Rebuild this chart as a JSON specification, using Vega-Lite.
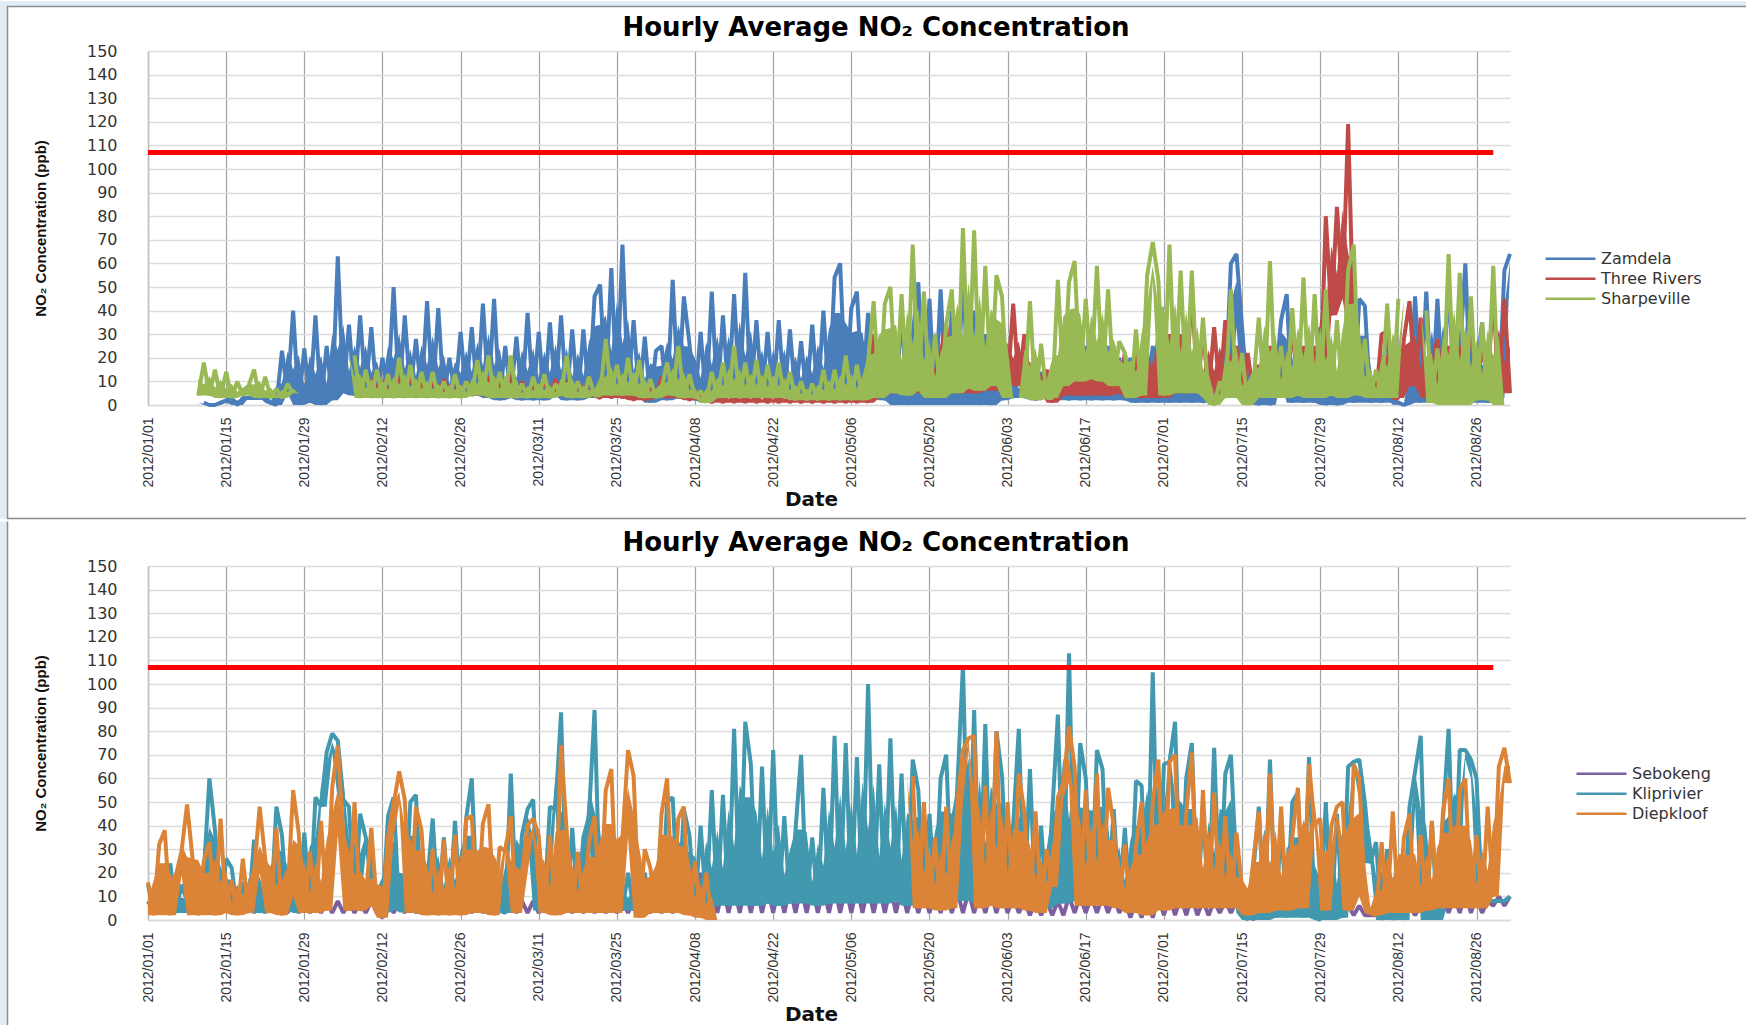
{"$schema":"https://vega.github.io/schema/vega-lite/v6.json","background":"white","padding":0,"spacing":0,"bounds":"full",
"resolve":{"scale":{"color":"independent"},"legend":{"color":"independent"}},
"config":{"view":{"stroke":null},"legend":{"orient":"none","title":null,"symbolType":"stroke","symbolSize":2500,"symbolStrokeWidth":2.5,"clipHeight":19.5,"rowPadding":0,"labelOffset":4,"labelFont":"DejaVu Sans","labelFontSize":16,"labelColor":"#333333","padding":0},
"title":{"font":"DejaVu Sans","fontSize":26,"fontWeight":"bold","color":"#000000","anchor":"middle","dx":47},
"axisX":{"grid":true,"gridColor":"#a3a3a3","gridWidth":1.2,"ticks":false,"domainColor":"#d9d9d9","domainWidth":1.5,"format":"%Y/%m/%d","labelAngle":-90,"labelAlign":"right","labelBaseline":"middle","labelPadding":12,"labelFont":"Liberation Sans","labelFontSize":14,"labelColor":"#333333","labelOverlap":false,"labelFlush":false,"titleFont":"DejaVu Sans","titleFontSize":20,"titleFontWeight":"bold","titleColor":"#111111","titleX":663,"titleY":94,"titleBaseline":"middle","titleAlign":"center"},
"axisY":{"grid":true,"gridColor":"#dcdcdc","gridWidth":1.5,"ticks":false,"tickCount":16,"domainColor":"#c0c0c0","domainWidth":1.5,"labelFont":"DejaVu Sans","labelFontSize":16,"labelColor":"#333333","labelPadding":31,"labelOverlap":false,"titleFont":"Liberation Sans","titleFontSize":15,"titleFontWeight":"bold","titleColor":"#111111","titleX":-108,"titleY":177,"titleBaseline":"middle"}},
"datasets":{"north":[
{"date":"2012-01-10","Sha":4},{"date":"2012-01-11","Zam":1,"Sha":18},{"date":"2012-01-12","Zam":0,"Sha":4},{"date":"2012-01-13","Zam":0,"Sha":15},{"date":"2012-01-14","Zam":1,"Sha":3},{"date":"2012-01-15","Zam":2,"Sha":14},{"date":"2012-01-16","Zam":3,"Sha":3},{"date":"2012-01-17","Zam":0,"Sha":10},{"date":"2012-01-18","Zam":3,"Sha":4},{"date":"2012-01-19","Zam":3,"Sha":8},{"date":"2012-01-20","Zam":3,"Sha":15},{"date":"2012-01-21","Zam":3,"Sha":3},{"date":"2012-01-22","Zam":3,"Sha":12},{"date":"2012-01-23","Zam":1,"Sha":3},{"date":"2012-01-24","Zam":0,"Sha":7},{"date":"2012-01-25","Zam":23,"Sha":3},{"date":"2012-01-26","Zam":5,"Sha":9},{"date":"2012-01-27","Zam":40,"Sha":5},{"date":"2012-01-28","Zam":0},{"date":"2012-01-29","Zam":24},{"date":"2012-01-30","Zam":1},{"date":"2012-01-31","Zam":38},
{"date":"2012-02-01","Zam":0},{"date":"2012-02-02","Zam":25},{"date":"2012-02-03","Zam":2},{"date":"2012-02-04","Zam":63},{"date":"2012-02-05","Zam":5},{"date":"2012-02-06","Zam":34},{"date":"2012-02-07","Zam":4,"Sha":21},{"date":"2012-02-08","Zam":38,"Sha":3},{"date":"2012-02-09","Zam":5,"Sha":15},{"date":"2012-02-10","Zam":33,"Thr":9,"Sha":3},{"date":"2012-02-11","Zam":3,"Thr":13,"Sha":15},{"date":"2012-02-12","Zam":20,"Thr":5,"Sha":3},{"date":"2012-02-13","Zam":5,"Thr":13,"Sha":13},{"date":"2012-02-14","Zam":50,"Thr":5,"Sha":3},{"date":"2012-02-15","Zam":3,"Thr":12,"Sha":20},{"date":"2012-02-16","Zam":38,"Thr":5,"Sha":3},{"date":"2012-02-17","Zam":5,"Thr":12,"Sha":17},{"date":"2012-02-18","Zam":28,"Thr":4,"Sha":3},{"date":"2012-02-19","Zam":4,"Thr":10,"Sha":14},{"date":"2012-02-20","Zam":44,"Thr":4,"Sha":3},{"date":"2012-02-21","Zam":3,"Thr":10,"Sha":14},{"date":"2012-02-22","Zam":41,"Thr":4,"Sha":3},{"date":"2012-02-23","Zam":3,"Thr":11,"Sha":10},{"date":"2012-02-24","Zam":20,"Thr":5,"Sha":3},{"date":"2012-02-25","Zam":4,"Thr":11,"Sha":13},{"date":"2012-02-26","Zam":31,"Thr":4,"Sha":3},{"date":"2012-02-27","Zam":5,"Thr":10,"Sha":10},{"date":"2012-02-28","Zam":33,"Thr":4,"Sha":4},{"date":"2012-02-29","Zam":4,"Thr":9,"Sha":19},
{"date":"2012-03-01","Zam":43,"Thr":4,"Sha":4},{"date":"2012-03-02","Zam":3,"Thr":12,"Sha":21},{"date":"2012-03-03","Zam":45,"Thr":4,"Sha":3},{"date":"2012-03-04","Zam":2,"Thr":10,"Sha":14},{"date":"2012-03-05","Zam":25,"Thr":4,"Sha":3},{"date":"2012-03-06","Zam":3,"Thr":13,"Sha":21},{"date":"2012-03-07","Zam":29,"Thr":3,"Sha":3},{"date":"2012-03-08","Zam":2,"Thr":10,"Sha":9},{"date":"2012-03-09","Zam":39,"Thr":4,"Sha":3},{"date":"2012-03-10","Zam":2,"Thr":9,"Sha":12},{"date":"2012-03-11","Zam":31,"Thr":4,"Sha":3},{"date":"2012-03-12","Zam":2,"Thr":10,"Sha":13},{"date":"2012-03-13","Zam":35,"Thr":4,"Sha":3},{"date":"2012-03-14","Zam":4,"Thr":11,"Sha":9},{"date":"2012-03-15","Zam":38,"Thr":4,"Sha":4},{"date":"2012-03-16","Zam":2,"Thr":10,"Sha":21},{"date":"2012-03-17","Zam":32,"Thr":4,"Sha":3},{"date":"2012-03-18","Zam":2,"Thr":10,"Sha":10},{"date":"2012-03-19","Zam":32,"Thr":4,"Sha":3},{"date":"2012-03-20","Zam":3,"Thr":12,"Sha":12},{"date":"2012-03-21","Zam":46,"Thr":4,"Sha":4},
{"date":"2012-03-22","Zam":51,"Thr":3,"Sha":4},{"date":"2012-03-23","Zam":5,"Thr":7,"Sha":28},{"date":"2012-03-24","Zam":58,"Thr":3,"Sha":4},{"date":"2012-03-25","Zam":5,"Thr":7,"Sha":17},{"date":"2012-03-26","Zam":68,"Thr":3,"Sha":4},{"date":"2012-03-27","Zam":5,"Thr":7,"Sha":20},{"date":"2012-03-28","Zam":36,"Thr":2,"Sha":4},{"date":"2012-03-29","Zam":3,"Thr":6,"Sha":19},{"date":"2012-03-30","Zam":29,"Thr":2,"Sha":3},{"date":"2012-03-31","Zam":1,"Thr":7,"Sha":11},
{"date":"2012-04-01","Zam":23,"Thr":3,"Sha":3},{"date":"2012-04-02","Zam":25,"Thr":12,"Sha":7},{"date":"2012-04-03","Zam":2,"Thr":3,"Sha":18},{"date":"2012-04-04","Zam":53,"Thr":10,"Sha":4},{"date":"2012-04-05","Zam":3,"Thr":3,"Sha":25},{"date":"2012-04-06","Zam":46,"Thr":7,"Sha":3},{"date":"2012-04-07","Zam":26,"Thr":2,"Sha":13},{"date":"2012-04-08","Zam":2,"Thr":6,"Sha":3},{"date":"2012-04-09","Zam":31,"Thr":2,"Sha":6},{"date":"2012-04-10","Zam":1,"Thr":5,"Sha":1},{"date":"2012-04-11","Zam":48,"Thr":1,"Sha":14},{"date":"2012-04-12","Zam":2,"Thr":5,"Sha":3},{"date":"2012-04-13","Zam":38,"Thr":1,"Sha":18},{"date":"2012-04-14","Zam":3,"Thr":6,"Sha":3},{"date":"2012-04-15","Zam":47,"Thr":1,"Sha":25},{"date":"2012-04-16","Zam":3,"Thr":6,"Sha":3},{"date":"2012-04-17","Zam":56,"Thr":1,"Sha":18},{"date":"2012-04-18","Zam":3,"Thr":6,"Sha":3},{"date":"2012-04-19","Zam":36,"Thr":1,"Sha":19},{"date":"2012-04-20","Zam":3,"Thr":5,"Sha":3},{"date":"2012-04-21","Zam":31,"Thr":1,"Sha":17},{"date":"2012-04-22","Zam":3,"Thr":5,"Sha":3},{"date":"2012-04-23","Zam":36,"Thr":1,"Sha":18},{"date":"2012-04-24","Zam":3,"Thr":6,"Sha":3},{"date":"2012-04-25","Zam":32,"Thr":1,"Sha":14},{"date":"2012-04-26","Zam":3,"Thr":5,"Sha":2},{"date":"2012-04-27","Zam":27,"Thr":1,"Sha":10},{"date":"2012-04-28","Zam":3,"Thr":5,"Sha":2},{"date":"2012-04-29","Zam":34,"Thr":1,"Sha":9},{"date":"2012-04-30","Zam":3,"Thr":5,"Sha":2},
{"date":"2012-05-01","Zam":40,"Thr":1,"Sha":15},{"date":"2012-05-02","Zam":3,"Thr":5,"Sha":2},{"date":"2012-05-03","Zam":54,"Thr":1,"Sha":15},{"date":"2012-05-04","Zam":60,"Thr":5,"Sha":2},{"date":"2012-05-05","Zam":3,"Thr":1,"Sha":21},{"date":"2012-05-06","Zam":41,"Thr":6,"Sha":2},{"date":"2012-05-07","Zam":48,"Thr":1,"Sha":17},{"date":"2012-05-08","Zam":5,"Thr":6,"Sha":2},{"date":"2012-05-09","Zam":39,"Thr":1,"Sha":18},{"date":"2012-05-10","Zam":3,"Thr":30,"Sha":44},{"date":"2012-05-11","Zam":25,"Thr":3,"Sha":3},{"date":"2012-05-12","Zam":2,"Thr":28,"Sha":43},{"date":"2012-05-13","Zam":30,"Thr":5,"Sha":50},{"date":"2012-05-14","Zam":0,"Thr":25,"Sha":5},{"date":"2012-05-15","Zam":40,"Thr":5,"Sha":47},{"date":"2012-05-16","Zam":0,"Thr":25,"Sha":4},{"date":"2012-05-17","Zam":30,"Thr":5,"Sha":68},{"date":"2012-05-18","Zam":52,"Thr":25,"Sha":6},{"date":"2012-05-19","Zam":0,"Thr":5,"Sha":48},{"date":"2012-05-20","Zam":45,"Thr":22,"Sha":3},{"date":"2012-05-21","Zam":0,"Thr":5,"Sha":30},{"date":"2012-05-22","Zam":49,"Thr":22,"Sha":3},{"date":"2012-05-23","Zam":0,"Thr":34,"Sha":34},{"date":"2012-05-24","Zam":40,"Thr":5,"Sha":49},{"date":"2012-05-25","Zam":0,"Thr":33,"Sha":5},{"date":"2012-05-26","Zam":57,"Thr":5,"Sha":75},{"date":"2012-05-27","Zam":0,"Thr":25,"Sha":7},{"date":"2012-05-28","Zam":40,"Thr":5,"Sha":74},{"date":"2012-05-29","Zam":0,"Thr":25,"Sha":6},{"date":"2012-05-30","Zam":30,"Thr":6,"Sha":59},{"date":"2012-05-31","Zam":0,"Thr":25,"Sha":8},
{"date":"2012-06-01","Zam":30,"Thr":6,"Sha":55},{"date":"2012-06-02","Zam":2,"Thr":28,"Sha":46},{"date":"2012-06-03","Zam":20,"Thr":8,"Sha":3},{"date":"2012-06-04","Zam":3,"Thr":43},{"date":"2012-06-05","Zam":15,"Thr":8},{"date":"2012-06-06","Zam":3,"Thr":30,"Sha":3},{"date":"2012-06-07","Zam":10,"Thr":6,"Sha":44},{"date":"2012-06-08","Zam":2,"Thr":20,"Sha":2},{"date":"2012-06-09","Zam":14,"Thr":5,"Sha":26},{"date":"2012-06-10","Zam":3,"Thr":15,"Sha":3},{"date":"2012-06-11","Zam":10,"Thr":1,"Sha":3},{"date":"2012-06-12","Zam":2,"Thr":14,"Sha":53},{"date":"2012-06-13","Zam":15,"Thr":4,"Sha":8},{"date":"2012-06-14","Zam":2,"Thr":25,"Sha":52},{"date":"2012-06-15","Zam":25,"Thr":4,"Sha":61},{"date":"2012-06-16","Zam":2,"Thr":25,"Sha":10},{"date":"2012-06-17","Zam":25,"Thr":4,"Sha":45},{"date":"2012-06-18","Zam":2,"Thr":25,"Sha":11},{"date":"2012-06-19","Zam":25,"Thr":4,"Sha":59},{"date":"2012-06-20","Zam":2,"Thr":25,"Sha":10},{"date":"2012-06-21","Zam":25,"Thr":4,"Sha":49},{"date":"2012-06-22","Zam":2,"Thr":25,"Sha":8},{"date":"2012-06-23","Zam":20,"Thr":5,"Sha":27},{"date":"2012-06-24","Zam":2,"Thr":22,"Sha":22},{"date":"2012-06-25","Zam":20,"Thr":3,"Sha":3},{"date":"2012-06-26","Zam":1,"Thr":22,"Sha":32},{"date":"2012-06-27","Zam":15,"Thr":3,"Sha":4},{"date":"2012-06-28","Zam":1,"Thr":22,"Sha":55},{"date":"2012-06-29","Zam":25,"Thr":3,"Sha":69},{"date":"2012-06-30","Zam":1,"Thr":30,"Sha":53},
{"date":"2012-07-01","Zam":25,"Thr":3,"Sha":4},{"date":"2012-07-02","Zam":1,"Thr":30,"Sha":68},{"date":"2012-07-03","Zam":25,"Thr":5,"Sha":5},{"date":"2012-07-04","Zam":1,"Thr":30,"Sha":57},{"date":"2012-07-05","Zam":25,"Thr":5,"Sha":5},{"date":"2012-07-06","Zam":1,"Thr":50,"Sha":57},{"date":"2012-07-07","Zam":15,"Thr":5,"Sha":5},{"date":"2012-07-08","Zam":1,"Thr":32,"Sha":37},{"date":"2012-07-09","Zam":10,"Thr":5,"Sha":3},{"date":"2012-07-10","Zam":2,"Thr":33,"Sha":0},{"date":"2012-07-11","Zam":12,"Thr":5,"Sha":10},{"date":"2012-07-12","Zam":5,"Thr":36,"Sha":3},{"date":"2012-07-13","Zam":60,"Thr":5,"Sha":49},{"date":"2012-07-14","Zam":64,"Thr":25,"Sha":3},{"date":"2012-07-15","Zam":33,"Thr":3,"Sha":22},{"date":"2012-07-16","Zam":3,"Thr":22,"Sha":0},{"date":"2012-07-17","Zam":12,"Thr":5,"Sha":8},{"date":"2012-07-18","Zam":0,"Thr":17,"Sha":37},{"date":"2012-07-19","Zam":10,"Thr":5,"Sha":3},{"date":"2012-07-20","Zam":0,"Thr":25,"Sha":61},{"date":"2012-07-21","Zam":10,"Thr":5,"Sha":3},{"date":"2012-07-22","Zam":36,"Thr":25,"Sha":25},{"date":"2012-07-23","Zam":47,"Thr":5,"Sha":3},{"date":"2012-07-24","Zam":1,"Thr":34,"Sha":41},{"date":"2012-07-25","Zam":12,"Thr":5,"Sha":4},{"date":"2012-07-26","Zam":1,"Thr":25,"Sha":54},{"date":"2012-07-27","Zam":12,"Thr":4,"Sha":3},{"date":"2012-07-28","Zam":1,"Thr":25,"Sha":47},{"date":"2012-07-29","Zam":33,"Thr":4,"Sha":3},{"date":"2012-07-30","Zam":0,"Thr":80,"Sha":49},{"date":"2012-07-31","Zam":12,"Thr":38,"Sha":4},
{"date":"2012-08-01","Zam":0,"Thr":84,"Sha":36},{"date":"2012-08-02","Zam":12,"Thr":45,"Sha":3},{"date":"2012-08-03","Zam":18,"Thr":119,"Sha":57},{"date":"2012-08-04","Zam":1,"Thr":30,"Sha":68},{"date":"2012-08-05","Zam":45,"Thr":10,"Sha":4},{"date":"2012-08-06","Zam":42,"Thr":5,"Sha":28},{"date":"2012-08-07","Zam":1,"Thr":10,"Sha":3},{"date":"2012-08-08","Zam":8,"Thr":3,"Sha":15},{"date":"2012-08-09","Zam":1,"Thr":30,"Sha":3},{"date":"2012-08-10","Zam":38,"Thr":31,"Sha":43},{"date":"2012-08-11","Zam":1,"Thr":3,"Sha":3},{"date":"2012-08-12","Zam":1,"Thr":3,"Sha":45},{"date":"2012-08-13","Zam":0,"Thr":28},{"date":"2012-08-14","Zam":1,"Thr":44},{"date":"2012-08-15","Zam":46,"Thr":8},{"date":"2012-08-16","Zam":1,"Thr":37},{"date":"2012-08-17","Zam":48,"Thr":3,"Sha":40},{"date":"2012-08-18","Zam":1,"Thr":15,"Sha":1},{"date":"2012-08-19","Zam":45,"Thr":28,"Sha":24},{"date":"2012-08-20","Zam":1,"Thr":5,"Sha":0},{"date":"2012-08-21","Zam":55,"Thr":25,"Sha":64},{"date":"2012-08-22","Zam":1,"Thr":5,"Sha":0},{"date":"2012-08-23","Zam":20,"Thr":25,"Sha":56},{"date":"2012-08-24","Zam":60,"Thr":5,"Sha":0},{"date":"2012-08-25","Zam":1,"Thr":38,"Sha":46},{"date":"2012-08-26","Zam":15,"Thr":5,"Sha":2},{"date":"2012-08-27","Zam":35,"Thr":25,"Sha":35},{"date":"2012-08-28","Zam":1,"Thr":10,"Sha":2},{"date":"2012-08-29","Zam":15,"Thr":46,"Sha":59},{"date":"2012-08-30","Zam":3,"Thr":5,"Sha":0},{"date":"2012-08-31","Zam":57,"Thr":45},{"date":"2012-09-01","Zam":64,"Thr":5}],
"south":[
{"date":"2012-01-01","Seb":8,"Kli":15,"Die":16},{"date":"2012-01-02","Seb":4,"Kli":3,"Die":2},{"date":"2012-01-03","Seb":10,"Kli":20,"Die":32},{"date":"2012-01-04","Seb":4,"Kli":5,"Die":38},{"date":"2012-01-05","Seb":10,"Kli":24,"Die":2},{"date":"2012-01-06","Seb":4,"Kli":3,"Die":19},{"date":"2012-01-07","Seb":9,"Kli":15,"Die":29},{"date":"2012-01-08","Seb":5,"Kli":8,"Die":49},
{"date":"2012-01-10","Seb":3,"Kli":3,"Die":2},{"date":"2012-01-11","Seb":10,"Kli":20,"Die":25},{"date":"2012-01-12","Seb":4,"Kli":60,"Die":33},{"date":"2012-01-13","Seb":10,"Kli":38,"Die":2},{"date":"2012-01-14","Seb":4,"Kli":4,"Die":43},{"date":"2012-01-15","Seb":10,"Kli":26,"Die":3},{"date":"2012-01-16","Seb":4,"Kli":22,"Die":17},{"date":"2012-01-17","Seb":8,"Kli":3,"Die":2},{"date":"2012-01-18","Seb":3,"Kli":16,"Die":26},{"date":"2012-01-19","Seb":8,"Kli":3,"Die":3},{"date":"2012-01-20","Seb":3,"Kli":34,"Die":20},{"date":"2012-01-21","Seb":8,"Kli":3,"Die":48},{"date":"2012-01-22","Seb":3,"Kli":18,"Die":26},{"date":"2012-01-23","Seb":8,"Kli":3,"Die":3},{"date":"2012-01-24","Seb":3,"Kli":48,"Die":39},{"date":"2012-01-25","Seb":8,"Kli":36,"Die":2},{"date":"2012-01-26","Seb":3,"Kli":4,"Die":10},{"date":"2012-01-27","Seb":8,"Kli":28,"Die":55},{"date":"2012-01-28","Seb":3,"Kli":3,"Die":37},{"date":"2012-01-29","Seb":8,"Kli":37,"Die":3},{"date":"2012-01-30","Seb":3,"Kli":5,"Die":29},{"date":"2012-01-31","Seb":8,"Kli":52,"Die":3},
{"date":"2012-02-01","Seb":3,"Kli":48,"Die":42},{"date":"2012-02-02","Seb":8,"Kli":71,"Die":4},{"date":"2012-02-03","Seb":3,"Kli":79,"Die":56},{"date":"2012-02-04","Seb":8,"Kli":76,"Die":74},{"date":"2012-02-05","Seb":3,"Kli":51,"Die":36},{"date":"2012-02-06","Seb":8,"Kli":48,"Die":4},{"date":"2012-02-07","Seb":3,"Kli":5,"Die":50},{"date":"2012-02-08","Seb":8,"Kli":45,"Die":4},{"date":"2012-02-09","Seb":3,"Kli":35,"Die":8},{"date":"2012-02-10","Seb":8,"Kli":28,"Die":39},{"date":"2012-02-11","Seb":3,"Kli":8,"Die":6},{"date":"2012-02-12","Seb":1,"Kli":3,"Die":1},{"date":"2012-02-13","Seb":8,"Kli":44,"Die":35},{"date":"2012-02-14","Seb":3,"Kli":52,"Die":49},{"date":"2012-02-15","Seb":8,"Kli":4,"Die":63},{"date":"2012-02-16","Seb":3,"Kli":4,"Die":51},{"date":"2012-02-17","Seb":8,"Kli":50,"Die":3},{"date":"2012-02-18","Seb":3,"Kli":53,"Die":48},{"date":"2012-02-19","Seb":8,"Kli":4,"Die":38},{"date":"2012-02-20","Seb":3,"Kli":15,"Die":2},{"date":"2012-02-21","Seb":8,"Kli":43,"Die":30},{"date":"2012-02-22","Seb":3,"Kli":4,"Die":2},{"date":"2012-02-23","Seb":8,"Kli":35,"Die":34},{"date":"2012-02-24","Seb":3,"Kli":4,"Die":2},{"date":"2012-02-25","Seb":8,"Kli":42,"Die":36},{"date":"2012-02-26","Seb":3,"Kli":4,"Die":2},{"date":"2012-02-27","Seb":8,"Kli":43,"Die":43},{"date":"2012-02-28","Seb":3,"Kli":60,"Die":44},{"date":"2012-02-29","Seb":8,"Kli":4,"Die":3},
{"date":"2012-03-01","Seb":3,"Kli":15,"Die":41},{"date":"2012-03-02","Seb":8,"Kli":5,"Die":49},{"date":"2012-03-03","Seb":3,"Kli":26,"Die":2},{"date":"2012-03-04","Seb":8,"Kli":4,"Die":31},{"date":"2012-03-05","Seb":3,"Kli":3,"Die":29},{"date":"2012-03-06","Seb":8,"Kli":62,"Die":44},{"date":"2012-03-07","Seb":3,"Kli":5,"Die":3},{"date":"2012-03-08","Seb":8,"Kli":36,"Die":20},{"date":"2012-03-09","Seb":3,"Kli":47,"Die":40},{"date":"2012-03-10","Seb":8,"Kli":51,"Die":43},{"date":"2012-03-11","Seb":3,"Kli":4,"Die":36},{"date":"2012-03-12","Seb":8,"Kli":5,"Die":3},{"date":"2012-03-13","Seb":3,"Kli":48,"Die":36},{"date":"2012-03-14","Seb":8,"Kli":47,"Die":2},{"date":"2012-03-15","Seb":3,"Kli":88,"Die":74},{"date":"2012-03-16","Seb":8,"Kli":3,"Die":38},{"date":"2012-03-17","Seb":3,"Kli":39,"Die":3},{"date":"2012-03-18","Seb":8,"Kli":5,"Die":29},{"date":"2012-03-19","Seb":3,"Kli":35,"Die":3},{"date":"2012-03-20","Seb":8,"Kli":44,"Die":33},{"date":"2012-03-21","Seb":3,"Kli":89,"Die":44},{"date":"2012-03-22","Seb":8,"Kli":5,"Die":3},{"date":"2012-03-23","Seb":3,"Kli":20,"Die":55},{"date":"2012-03-24","Seb":8,"Kli":4,"Die":64},{"date":"2012-03-25","Seb":3,"Kli":15,"Die":3},{"date":"2012-03-26","Seb":8,"Kli":4,"Die":35},{"date":"2012-03-27","Seb":3,"Kli":20,"Die":72},{"date":"2012-03-28","Seb":8,"Kli":4,"Die":61},{"date":"2012-03-29","Seb":3,"Kli":12,"Die":1},{"date":"2012-03-30","Seb":8,"Kli":20,"Die":30},{"date":"2012-03-31","Seb":3,"Kli":4,"Die":22},
{"date":"2012-04-01","Seb":8,"Kli":20,"Die":3},{"date":"2012-04-02","Seb":3,"Kli":4,"Die":45},{"date":"2012-04-03","Seb":8,"Kli":50,"Die":60},{"date":"2012-04-04","Seb":3,"Kli":52,"Die":3},{"date":"2012-04-05","Seb":8,"Kli":3,"Die":43},{"date":"2012-04-06","Seb":3,"Kli":47,"Die":48},{"date":"2012-04-07","Seb":8,"Kli":36,"Die":2},{"date":"2012-04-08","Seb":3,"Kli":4,"Die":25},{"date":"2012-04-09","Seb":20,"Kli":40,"Die":1},{"date":"2012-04-10","Seb":3,"Kli":5,"Die":20},{"date":"2012-04-11","Seb":14,"Kli":55,"Die":0},{"date":"2012-04-12","Seb":3,"Kli":6},{"date":"2012-04-13","Seb":14,"Kli":53},{"date":"2012-04-14","Seb":3,"Kli":6},{"date":"2012-04-15","Seb":14,"Kli":81},{"date":"2012-04-16","Seb":3,"Kli":6},{"date":"2012-04-17","Seb":14,"Kli":84},{"date":"2012-04-18","Seb":3,"Kli":66},{"date":"2012-04-19","Seb":14,"Kli":6},{"date":"2012-04-20","Seb":3,"Kli":65},{"date":"2012-04-21","Seb":14,"Kli":7},{"date":"2012-04-22","Seb":3,"Kli":72},{"date":"2012-04-23","Seb":14,"Kli":6},{"date":"2012-04-24","Seb":3,"Kli":44},{"date":"2012-04-25","Seb":14,"Kli":7},{"date":"2012-04-26","Seb":3,"Kli":38},{"date":"2012-04-27","Seb":14,"Kli":70},{"date":"2012-04-28","Seb":3,"Kli":7},{"date":"2012-04-29","Seb":14,"Kli":35},{"date":"2012-04-30","Seb":3,"Kli":6},
{"date":"2012-05-01","Seb":14,"Kli":56},{"date":"2012-05-02","Seb":3,"Kli":7},{"date":"2012-05-03","Seb":14,"Kli":78},{"date":"2012-05-04","Seb":3,"Kli":7},{"date":"2012-05-05","Seb":14,"Kli":75},{"date":"2012-05-06","Seb":3,"Kli":7},{"date":"2012-05-07","Seb":14,"Kli":69},{"date":"2012-05-08","Seb":3,"Kli":7},{"date":"2012-05-09","Seb":14,"Kli":100},{"date":"2012-05-10","Seb":3,"Kli":7},{"date":"2012-05-11","Seb":14,"Kli":66},{"date":"2012-05-12","Seb":3,"Kli":7},{"date":"2012-05-13","Seb":14,"Kli":77},{"date":"2012-05-14","Seb":3,"Kli":8},{"date":"2012-05-15","Seb":14,"Kli":62},{"date":"2012-05-16","Seb":3,"Kli":6},{"date":"2012-05-17","Seb":12,"Kli":68,"Die":61},{"date":"2012-05-18","Seb":3,"Kli":55,"Die":5},{"date":"2012-05-19","Seb":12,"Kli":8,"Die":50},{"date":"2012-05-20","Seb":3,"Kli":45,"Die":5},{"date":"2012-05-21","Seb":12,"Kli":8,"Die":35},{"date":"2012-05-22","Seb":3,"Kli":60,"Die":4},{"date":"2012-05-23","Seb":12,"Kli":70,"Die":48},{"date":"2012-05-24","Seb":3,"Kli":8,"Die":5},{"date":"2012-05-25","Seb":12,"Kli":57,"Die":50},{"date":"2012-05-26","Seb":3,"Kli":108,"Die":72},{"date":"2012-05-27","Seb":12,"Kli":8,"Die":77},{"date":"2012-05-28","Seb":3,"Kli":89,"Die":78},{"date":"2012-05-29","Seb":12,"Kli":7,"Die":5},{"date":"2012-05-30","Seb":3,"Kli":83,"Die":57},{"date":"2012-05-31","Seb":12,"Kli":7,"Die":6},
{"date":"2012-06-01","Seb":3,"Kli":80,"Die":80},{"date":"2012-06-02","Seb":12,"Kli":61,"Die":5},{"date":"2012-06-03","Seb":3,"Kli":7,"Die":50},{"date":"2012-06-04","Seb":10,"Kli":40,"Die":5},{"date":"2012-06-05","Seb":3,"Kli":81,"Die":62},{"date":"2012-06-06","Seb":8,"Kli":7,"Die":46},{"date":"2012-06-07","Seb":2,"Kli":64,"Die":4},{"date":"2012-06-08","Seb":8,"Kli":6,"Die":46},{"date":"2012-06-09","Seb":2,"Kli":40,"Die":3},{"date":"2012-06-10","Seb":8,"Kli":5,"Die":30},{"date":"2012-06-11","Seb":2,"Kli":46,"Die":14},{"date":"2012-06-12","Seb":8,"Kli":87,"Die":52},{"date":"2012-06-13","Seb":2,"Kli":7,"Die":58},{"date":"2012-06-14","Seb":10,"Kli":113,"Die":82},{"date":"2012-06-15","Seb":3,"Kli":8,"Die":65},{"date":"2012-06-16","Seb":10,"Kli":75,"Die":6},{"date":"2012-06-17","Seb":3,"Kli":60,"Die":55},{"date":"2012-06-18","Seb":10,"Kli":7,"Die":6},{"date":"2012-06-19","Seb":3,"Kli":72,"Die":62},{"date":"2012-06-20","Seb":10,"Kli":64,"Die":6},{"date":"2012-06-21","Seb":3,"Kli":8,"Die":56},{"date":"2012-06-22","Seb":10,"Kli":47,"Die":40},{"date":"2012-06-23","Seb":3,"Kli":7,"Die":5},{"date":"2012-06-24","Seb":8,"Kli":39,"Die":32},{"date":"2012-06-25","Seb":1,"Kli":4,"Die":3},{"date":"2012-06-26","Seb":8,"Kli":59,"Die":31},{"date":"2012-06-27","Seb":1,"Kli":57,"Die":50},{"date":"2012-06-28","Seb":10,"Kli":3,"Die":2},{"date":"2012-06-29","Seb":1,"Kli":105,"Die":50},{"date":"2012-06-30","Seb":10,"Kli":5,"Die":68},
{"date":"2012-07-01","Seb":2,"Kli":66,"Die":4},{"date":"2012-07-02","Seb":10,"Kli":67,"Die":67},{"date":"2012-07-03","Seb":2,"Kli":84,"Die":70},{"date":"2012-07-04","Seb":10,"Kli":6,"Die":5},{"date":"2012-07-05","Seb":2,"Kli":60,"Die":45},{"date":"2012-07-06","Seb":10,"Kli":75,"Die":71},{"date":"2012-07-07","Seb":2,"Kli":6,"Die":5},{"date":"2012-07-08","Seb":8,"Kli":46,"Die":55},{"date":"2012-07-09","Seb":2,"Kli":6,"Die":5},{"date":"2012-07-10","Seb":8,"Kli":73,"Die":54},{"date":"2012-07-11","Seb":3,"Kli":6,"Die":5},{"date":"2012-07-12","Seb":8,"Kli":62,"Die":44},{"date":"2012-07-13","Seb":3,"Kli":70,"Die":5},{"date":"2012-07-14","Seb":8,"Kli":21,"Die":37},{"date":"2012-07-15","Seb":2,"Kli":3,"Die":13},{"date":"2012-07-16","Seb":6,"Kli":0,"Die":2},{"date":"2012-07-17","Seb":0,"Kli":20,"Die":25},{"date":"2012-07-18","Seb":6,"Kli":48,"Die":46},{"date":"2012-07-19","Seb":2,"Kli":0,"Die":3},{"date":"2012-07-20","Seb":6,"Kli":68,"Die":62},{"date":"2012-07-21","Seb":2,"Kli":1,"Die":4},{"date":"2012-07-22","Seb":6,"Kli":40,"Die":48},{"date":"2012-07-23","Seb":2,"Kli":1,"Die":4},{"date":"2012-07-24","Seb":6,"Kli":50,"Die":35},{"date":"2012-07-25","Seb":2,"Kli":54,"Die":56},{"date":"2012-07-26","Seb":6,"Kli":1,"Die":5},{"date":"2012-07-27","Seb":2,"Kli":69,"Die":66},{"date":"2012-07-28","Seb":6,"Kli":1,"Die":40},{"date":"2012-07-29","Seb":2,"Kli":0,"Die":43},{"date":"2012-07-30","Seb":6,"Kli":50,"Die":4},{"date":"2012-07-31","Seb":2,"Kli":0,"Die":40},
{"date":"2012-08-01","Seb":6,"Kli":45,"Die":48},{"date":"2012-08-02","Seb":2,"Kli":1,"Die":50},{"date":"2012-08-03","Seb":6,"Kli":65,"Die":4},{"date":"2012-08-04","Seb":2,"Kli":67,"Die":66},{"date":"2012-08-05","Seb":6,"Kli":68,"Die":60},{"date":"2012-08-06","Seb":2,"Kli":50,"Die":10},{"date":"2012-08-07","Seb":2,"Kli":24,"Die":3},{"date":"2012-08-08","Seb":2,"Kli":33,"Die":2},{"date":"2012-08-09","Seb":3,"Kli":0,"Die":33},{"date":"2012-08-10","Seb":6,"Kli":30,"Die":3},{"date":"2012-08-11","Seb":2,"Kli":0,"Die":46},{"date":"2012-08-12","Seb":6,"Kli":25,"Die":3},{"date":"2012-08-13","Seb":2,"Kli":0,"Die":35},{"date":"2012-08-14","Seb":6,"Kli":48,"Die":45},{"date":"2012-08-15","Seb":2,"Kli":63,"Die":3},{"date":"2012-08-16","Seb":6,"Kli":78,"Die":36},{"date":"2012-08-17","Seb":2,"Kli":0,"Die":4},{"date":"2012-08-18","Seb":6,"Kli":41,"Die":42},{"date":"2012-08-19","Seb":3,"Kli":0,"Die":5},{"date":"2012-08-20","Seb":10,"Kli":43,"Die":46},{"date":"2012-08-21","Seb":3,"Kli":81,"Die":60},{"date":"2012-08-22","Seb":10,"Kli":8,"Die":5},{"date":"2012-08-23","Seb":3,"Kli":72,"Die":55},{"date":"2012-08-24","Seb":12,"Kli":72,"Die":60},{"date":"2012-08-25","Seb":3,"Kli":68,"Die":5},{"date":"2012-08-26","Seb":10,"Kli":60,"Die":36},{"date":"2012-08-27","Seb":3,"Kli":8,"Die":5},{"date":"2012-08-28","Seb":8,"Kli":8,"Die":48},{"date":"2012-08-29","Seb":6,"Kli":8,"Die":10},{"date":"2012-08-30","Seb":10,"Kli":8,"Die":65},{"date":"2012-08-31","Seb":6,"Kli":8,"Die":73},{"date":"2012-09-01","Seb":10,"Kli":10,"Die":58}]
},
"vconcat":[
{"width":1362,"height":354,"title":{"text":"Hourly Average NO₂ Concentration","offset":-40},"data":{"name":"north"},
"layer":[
{"data":{"values":[{"panel":"left margin"}]},"mark":{"type":"rect","fill":"#e1ecf5"},"encoding":{"x":{"datum":{"year":2011,"month":12,"date":5,"hours":12},"type":"temporal","scale":{"domain":["2012-01-01","2012-09-01"]}},"x2":{"datum":{"year":2011,"month":12,"date":6,"hours":20}},"y":{"datum":171.2,"type":"quantitative","scale":{"domain":[0,150],"nice":false}},"y2":{"datum":-48.1}}},
{"data":{"values":[{"panel":"top margin"}]},"mark":{"type":"rect","fill":"#e1ecf5"},"encoding":{"x":{"datum":{"year":2011,"month":12,"date":5,"hours":12},"type":"temporal","scale":{"domain":["2012-01-01","2012-09-01"]}},"x2":{"datum":{"year":2012,"month":10,"date":14}},"y":{"datum":171.2,"type":"quantitative","scale":{"domain":[0,150],"nice":false}},"y2":{"datum":168.9}}},
{"data":{"values":[{"panel":"frame"}]},"mark":{"type":"rect","fill":null,"stroke":"#8c8c8c","strokeWidth":1.5},"encoding":{"x":{"datum":{"year":2011,"month":12,"date":6,"hours":20},"type":"temporal","scale":{"domain":["2012-01-01","2012-09-01"]}},"x2":{"datum":{"year":2012,"month":10,"date":13,"hours":12}},"y":{"datum":168.9,"type":"quantitative","scale":{"domain":[0,150],"nice":false}},"y2":{"datum":-48.1}}},
{"mark":{"type":"line","strokeWidth":4,"strokeJoin":"bevel"},"encoding":{"x":{"field":"date","type":"temporal","scale":{"domain":["2012-01-01","2012-09-01"]},"axis":{"title":"Date","values":["2012-01-01","2012-01-15","2012-01-29","2012-02-12","2012-02-26","2012-03-11","2012-03-25","2012-04-08","2012-04-22","2012-05-06","2012-05-20","2012-06-03","2012-06-17","2012-07-01","2012-07-15","2012-07-29","2012-08-12","2012-08-26"]}},"y":{"field":"Zam","type":"quantitative","scale":{"domain":[0,150],"nice":false},"axis":{"title":"NO₂ Concentration (ppb)"}},"color":{"datum":"Zamdela","scale":{"domain":["Zamdela","Three Rivers","Sharpeville"],"range":["#4a7ebb","#be4b48","#98b954"]},"legend":{"legendX":1396,"legendY":198}}}},
{"transform":[{"window":[{"op":"min","field":"Zam","as":"low"},{"op":"mean","field":"Zam","as":"mid"}],"frame":[-1,1],"sort":[{"field":"date"}]}],"mark":{"type":"area","color":"#4a7ebb"},"encoding":{"x":{"field":"date","type":"temporal","scale":{"domain":["2012-01-01","2012-09-01"]}},"y":{"field":"mid","type":"quantitative","scale":{"domain":[0,150],"nice":false}},"y2":{"field":"low"}}},
{"transform":[{"window":[{"op":"min","field":"Thr","as":"low"},{"op":"mean","field":"Thr","as":"mid"}],"frame":[-1,1],"sort":[{"field":"date"}]}],"mark":{"type":"area","color":"#be4b48"},"encoding":{"x":{"field":"date","type":"temporal","scale":{"domain":["2012-01-01","2012-09-01"]}},"y":{"field":"mid","type":"quantitative","scale":{"domain":[0,150],"nice":false}},"y2":{"field":"low"}}},
{"mark":{"type":"line","strokeWidth":4,"strokeJoin":"bevel"},"encoding":{"x":{"field":"date","type":"temporal","scale":{"domain":["2012-01-01","2012-09-01"]}},"y":{"field":"Thr","type":"quantitative","scale":{"domain":[0,150],"nice":false}},"color":{"datum":"Three Rivers","scale":{"domain":["Zamdela","Three Rivers","Sharpeville"],"range":["#4a7ebb","#be4b48","#98b954"]},"legend":{"legendX":1396,"legendY":198}}}},
{"transform":[{"window":[{"op":"min","field":"Sha","as":"low"},{"op":"mean","field":"Sha","as":"mid"}],"frame":[-1,1],"sort":[{"field":"date"}]}],"mark":{"type":"area","color":"#98b954"},"encoding":{"x":{"field":"date","type":"temporal","scale":{"domain":["2012-01-01","2012-09-01"]}},"y":{"field":"mid","type":"quantitative","scale":{"domain":[0,150],"nice":false}},"y2":{"field":"low"}}},
{"mark":{"type":"line","strokeWidth":4,"strokeJoin":"bevel"},"encoding":{"x":{"field":"date","type":"temporal","scale":{"domain":["2012-01-01","2012-09-01"]}},"y":{"field":"Sha","type":"quantitative","scale":{"domain":[0,150],"nice":false}},"color":{"datum":"Sharpeville","scale":{"domain":["Zamdela","Three Rivers","Sharpeville"],"range":["#4a7ebb","#be4b48","#98b954"]},"legend":{"legendX":1396,"legendY":198}}}},
{"data":{"values":[{"date":"2012-01-01","limit":107},{"date":"2012-08-29","limit":107}]},"mark":{"type":"line","color":"#ff0000","strokeWidth":5},"encoding":{"x":{"field":"date","type":"temporal","scale":{"domain":["2012-01-01","2012-09-01"]}},"y":{"field":"limit","type":"quantitative","scale":{"domain":[0,150],"nice":false}}}}
]},
{"width":1362,"height":354,"title":{"text":"Hourly Average NO₂ Concentration","offset":-35},"data":{"name":"south"},
"layer":[
{"data":{"values":[{"panel":"left margin"}]},"mark":{"type":"rect","fill":"#e1ecf5"},"encoding":{"x":{"datum":{"year":2011,"month":12,"date":5,"hours":12},"type":"temporal","scale":{"domain":["2012-01-01","2012-09-01"]}},"x2":{"datum":{"year":2011,"month":12,"date":6,"hours":20}},"y":{"datum":168.9,"type":"quantitative","scale":{"domain":[0,150],"nice":false}},"y2":{"datum":-46}}},
{"data":{"values":[{"panel":"left edge"}]},"mark":{"type":"rule","stroke":"#8c8c8c","strokeWidth":1.5},"encoding":{"x":{"datum":{"year":2011,"month":12,"date":6,"hours":20},"type":"temporal","scale":{"domain":["2012-01-01","2012-09-01"]}},"y":{"datum":168.9,"type":"quantitative","scale":{"domain":[0,150],"nice":false}},"y2":{"datum":-46}}},
{"data":{"values":[{"panel":"right edge"}]},"mark":{"type":"rule","stroke":"#8c8c8c","strokeWidth":1.5},"encoding":{"x":{"datum":{"year":2012,"month":10,"date":13,"hours":12},"type":"temporal","scale":{"domain":["2012-01-01","2012-09-01"]}},"y":{"datum":168.9,"type":"quantitative","scale":{"domain":[0,150],"nice":false}},"y2":{"datum":-46}}},
{"mark":{"type":"line","strokeWidth":4,"strokeJoin":"bevel"},"encoding":{"x":{"field":"date","type":"temporal","scale":{"domain":["2012-01-01","2012-09-01"]},"axis":{"title":"Date","values":["2012-01-01","2012-01-15","2012-01-29","2012-02-12","2012-02-26","2012-03-11","2012-03-25","2012-04-08","2012-04-22","2012-05-06","2012-05-20","2012-06-03","2012-06-17","2012-07-01","2012-07-15","2012-07-29","2012-08-12","2012-08-26"]}},"y":{"field":"Seb","type":"quantitative","scale":{"domain":[0,150],"nice":false},"axis":{"title":"NO₂ Concentration (ppb)"}},"color":{"datum":"Sebokeng","scale":{"domain":["Sebokeng","Kliprivier","Diepkloof"],"range":["#7d5fa0","#4198af","#db8438"]},"legend":{"legendX":1427,"legendY":198}}}},
{"transform":[{"window":[{"op":"min","field":"Kli","as":"low"},{"op":"mean","field":"Kli","as":"mid"}],"frame":[-1,1],"sort":[{"field":"date"}]}],"mark":{"type":"area","color":"#4198af"},"encoding":{"x":{"field":"date","type":"temporal","scale":{"domain":["2012-01-01","2012-09-01"]}},"y":{"field":"mid","type":"quantitative","scale":{"domain":[0,150],"nice":false}},"y2":{"field":"low"}}},
{"mark":{"type":"line","strokeWidth":4,"strokeJoin":"bevel"},"encoding":{"x":{"field":"date","type":"temporal","scale":{"domain":["2012-01-01","2012-09-01"]}},"y":{"field":"Kli","type":"quantitative","scale":{"domain":[0,150],"nice":false}},"color":{"datum":"Kliprivier","scale":{"domain":["Sebokeng","Kliprivier","Diepkloof"],"range":["#7d5fa0","#4198af","#db8438"]},"legend":{"legendX":1427,"legendY":198}}}},
{"transform":[{"window":[{"op":"min","field":"Die","as":"low"},{"op":"mean","field":"Die","as":"mid"}],"frame":[-1,1],"sort":[{"field":"date"}]}],"mark":{"type":"area","color":"#db8438"},"encoding":{"x":{"field":"date","type":"temporal","scale":{"domain":["2012-01-01","2012-09-01"]}},"y":{"field":"mid","type":"quantitative","scale":{"domain":[0,150],"nice":false}},"y2":{"field":"low"}}},
{"mark":{"type":"line","strokeWidth":4,"strokeJoin":"bevel"},"encoding":{"x":{"field":"date","type":"temporal","scale":{"domain":["2012-01-01","2012-09-01"]}},"y":{"field":"Die","type":"quantitative","scale":{"domain":[0,150],"nice":false}},"color":{"datum":"Diepkloof","scale":{"domain":["Sebokeng","Kliprivier","Diepkloof"],"range":["#7d5fa0","#4198af","#db8438"]},"legend":{"legendX":1427,"legendY":198}}}},
{"data":{"values":[{"date":"2012-01-01","limit":107},{"date":"2012-08-29","limit":107}]},"mark":{"type":"line","color":"#ff0000","strokeWidth":5},"encoding":{"x":{"field":"date","type":"temporal","scale":{"domain":["2012-01-01","2012-09-01"]}},"y":{"field":"limit","type":"quantitative","scale":{"domain":[0,150],"nice":false}}}}
]}
]}
